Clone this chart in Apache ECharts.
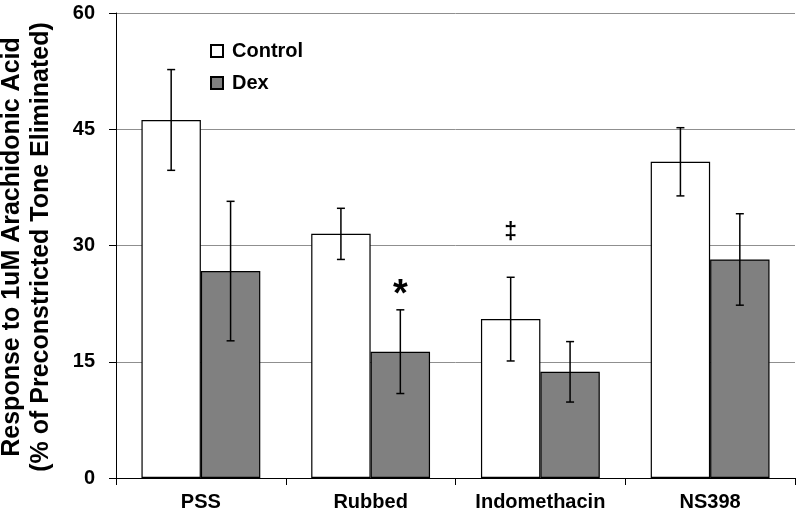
<!DOCTYPE html>
<html>
<head>
<meta charset="utf-8">
<script src="https://cdn.jsdelivr.net/npm/echarts@6/dist/echarts.min.js"></script>
<style>
html,body{margin:0;padding:0;background:#fff;}
#chart{width:796px;height:517px;}
</style>
</head>
<body>
<div id="chart"></div>
<script>
// ---- data ----
const categories = ['PSS', 'Rubbed', 'Indomethacin', 'NS398'];
const controlValues = [46.2, 31.5, 20.5, 40.8];
const controlErrors = [6.5, 3.3, 5.4, 4.4];
const dexValues = [26.7, 16.3, 13.7, 28.2];
const dexErrors = [9.0, 5.4, 3.9, 5.9];
const yTicks = [0, 15, 30, 45, 60];
// significance marks: [category index, series (0 = Control, 1 = Dex), y value, symbol]
const markCategory = [1, 2];
const markSeries = [1, 0];
const markY = [23.6, 31.6];
const markText = ['*', '\u2021'];

const FONT = '"Liberation Sans", Arial, Helvetica, sans-serif';
const BAR_FRAC = 0.35;

const chart = echarts.init(document.getElementById('chart'), null, {renderer: 'canvas'});

function errData(vals, errs) {
  return vals.map((v, i) => [i, v, errs[i]]);
}

function errRender(side) {
  return function (params, api) {
    const i = api.value(0), m = api.value(1), e = api.value(2);
    const band = api.size([1, 0])[0];
    const bw = band * BAR_FRAC;
    const cx = api.coord([i, m])[0] + side * bw / 2;
    const yh = api.coord([i, m + e])[1];
    const yl = api.coord([i, m - e])[1];
    const cap = 4;
    const st = {stroke: '#000', lineWidth: 1.5};
    return {
      type: 'group',
      children: [
        {type: 'line', shape: {x1: cx, y1: yh, x2: cx, y2: yl}, style: st},
        {type: 'line', shape: {x1: cx - cap, y1: yh, x2: cx + cap, y2: yh}, style: st},
        {type: 'line', shape: {x1: cx - cap, y1: yl, x2: cx + cap, y2: yl}, style: st}
      ]
    };
  };
}

const markData = markCategory.map((c, k) => [c, markY[k], markSeries[k], k]);

const option = {
  animation: false,
  backgroundColor: '#fff',
  grid: {left: 116, right: 1, top: 13, bottom: 39, containLabel: false},
  legend: {
    orient: 'vertical',
    left: 210,
    top: 41,
    padding: 0,
    itemWidth: 12,
    itemHeight: 12,
    itemGap: 12,
    icon: 'rect',
    data: ['Control', 'Dex'],
    textStyle: {fontFamily: FONT, fontWeight: 'bold', fontSize: 20, color: '#000', lineHeight: 20, padding: [0, 0, 0, 4]}
  },
  xAxis: {
    type: 'category',
    data: categories,
    boundaryGap: true,
    axisLine: {lineStyle: {color: '#000', width: 1}},
    axisTick: {show: true, interval: 0, length: 7, inside: false, lineStyle: {color: '#000'}},
    axisLabel: {interval: 0, margin: 14, fontFamily: FONT, fontWeight: 'bold', fontSize: 20, color: '#000'},
    splitLine: {show: false}
  },
  yAxis: {
    type: 'value',
    min: yTicks[0],
    max: yTicks[yTicks.length - 1],
    interval: yTicks[1] - yTicks[0],
    axisLine: {show: true, lineStyle: {color: '#000', width: 1}},
    axisTick: {show: true, length: 7, inside: false, lineStyle: {color: '#000'}},
    axisLabel: {margin: 21, fontFamily: FONT, fontWeight: 'bold', fontSize: 20, color: '#000'},
    splitLine: {show: true, lineStyle: {color: '#8f8f8f', width: 1}}
  },
  graphic: [
    {
      type: 'text',
      x: 12, y: 247,
      rotation: Math.PI / 2,
      style: {
        text: 'Response to 1uM Arachidonic Acid',
        font: 'bold 25px ' + FONT,
        fill: '#000',
        textAlign: 'center',
        textVerticalAlign: 'middle'
      }
    },
    {
      type: 'text',
      x: 41, y: 247,
      rotation: Math.PI / 2,
      style: {
        text: '(% of Preconstricted Tone Eliminated)',
        font: 'bold 25px ' + FONT,
        fill: '#000',
        textAlign: 'center',
        textVerticalAlign: 'middle'
      }
    }
  ],
  series: [
    {
      name: 'Control',
      type: 'bar',
      data: controlValues,
      barWidth: (BAR_FRAC * 100) + '%',
      barGap: '0%',
      itemStyle: {color: '#ffffff', borderColor: '#000', borderWidth: 1.2},
      z: 2
    },
    {
      name: 'Dex',
      type: 'bar',
      data: dexValues,
      barWidth: (BAR_FRAC * 100) + '%',
      barGap: '0%',
      itemStyle: {color: '#808080', borderColor: '#000', borderWidth: 1.2},
      z: 2
    },
    {
      type: 'custom',
      name: 'ControlErr',
      data: errData(controlValues, controlErrors),
      renderItem: errRender(-1),
      encode: {x: 0, y: 1},
      z: 5,
      silent: true
    },
    {
      type: 'custom',
      name: 'DexErr',
      data: errData(dexValues, dexErrors),
      renderItem: errRender(1),
      encode: {x: 0, y: 1},
      z: 5,
      silent: true
    },
    {
      type: 'custom',
      name: 'Marks',
      data: markData,
      encode: {x: 0, y: 1},
      z: 6,
      silent: true,
      renderItem: function (params, api) {
        const i = api.value(0), y = api.value(1), s = api.value(2), k = api.value(3);
        const band = api.size([1, 0])[0];
        const bw = band * BAR_FRAC;
        const p = api.coord([i, y]);
        const cx = p[0] + (s === 0 ? -1 : 1) * bw / 2;
        const isStar = markText[k] === '*';
        return {
          type: 'text',
          x: cx, y: p[1],
          style: {
            text: markText[k],
            font: 'bold ' + (isStar ? 38 : 23) + 'px ' + FONT,
            fill: '#000',
            textAlign: 'center',
            textVerticalAlign: 'middle'
          }
        };
      }
    }
  ]
};
chart.setOption(option);
</script>
</body>
</html>
